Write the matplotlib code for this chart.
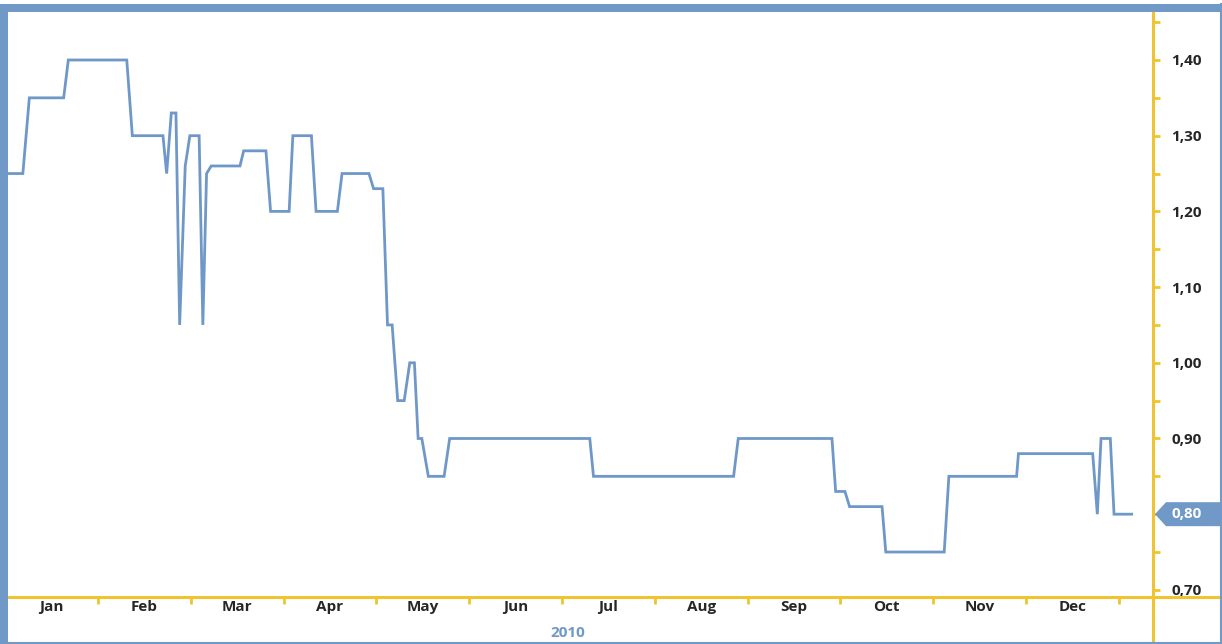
import matplotlib
matplotlib.use("Agg")
import matplotlib.pyplot as plt
from matplotlib.lines import Line2D
from matplotlib.patches import Rectangle, Polygon
from matplotlib import transforms
from matplotlib.ticker import FixedLocator, FuncFormatter, MultipleLocator

# ---- data (x in month units: 0 = start of Jan, 12 = end of Dec) ----
x_month = [0.03, 0.19, 0.26, 0.63, 0.68, 1.31, 1.37, 1.70, 1.74, 1.79, 1.84,
           1.88, 1.94, 1.99, 2.09, 2.13, 2.17, 2.22, 2.53, 2.57, 2.81, 2.86,
           3.06, 3.10, 3.30, 3.35, 3.58, 3.63, 3.92, 3.97, 4.07, 4.12, 4.17,
           4.23, 4.30, 4.36, 4.41, 4.45, 4.49, 4.56, 4.73, 4.79, 6.30, 6.34,
           7.85, 7.90, 8.91, 8.95, 9.05, 9.10, 9.45, 9.49, 10.12, 10.17,
           10.90, 10.92, 11.72, 11.77, 11.81, 11.91, 11.95, 12.14]
price = [1.25, 1.25, 1.35, 1.35, 1.40, 1.40, 1.30, 1.30, 1.25, 1.33, 1.33,
         1.05, 1.26, 1.30, 1.30, 1.05, 1.25, 1.26, 1.26, 1.28, 1.28, 1.20,
         1.20, 1.30, 1.30, 1.20, 1.20, 1.25, 1.25, 1.23, 1.23, 1.05, 1.05,
         0.95, 0.95, 1.00, 1.00, 0.90, 0.90, 0.85, 0.85, 0.90, 0.90, 0.85,
         0.85, 0.90, 0.90, 0.83, 0.83, 0.81, 0.81, 0.75, 0.75, 0.85,
         0.85, 0.88, 0.88, 0.80, 0.90, 0.90, 0.80, 0.80]
month_labels = ["Jan", "Feb", "Mar", "Apr", "May", "Jun", "Jul", "Aug",
                "Sep", "Oct", "Nov", "Dec"]
year_label = "2010"
last_value = 0.80

# ---- styles ----
W, H = 1222, 644
BLUE = "#7099c7"
LINE = "#6f98c8"
YEL = "#f0c431"
TXT = "#262626"
FONT = ["Open Sans", "DejaVu Sans"]
FS = 11

fig = plt.figure(figsize=(W / 100, H / 100), dpi=100)
fig.patch.set_facecolor("white")

ax_l, ax_r, ax_b, ax_t = 8, 1153, 597, 12
ax = fig.add_axes([ax_l / W, (H - ax_b) / H, (ax_r - ax_l) / W, (ax_b - ax_t) / H])
ax.set_facecolor("white")

ax.plot(x_month, price, color=LINE, lw=2.0, solid_joinstyle="miter", zorder=3)

ax.set_xlim(0.03, 12.37)
ax.set_ylim(0.6906, 1.4634)

for s in ["top", "left", "right"]:
    ax.spines[s].set_visible(False)
ax.spines["bottom"].set_color(YEL)
ax.spines["bottom"].set_linewidth(2.2)

# x ticks at month boundaries, labels centred in months
ax.xaxis.set_major_locator(FixedLocator(list(range(1, 13))))
ax.xaxis.set_major_formatter(FuncFormatter(lambda v, p: ""))
ax.xaxis.set_minor_locator(FixedLocator([i + 0.5 for i in range(12)]))
ax.xaxis.set_minor_formatter(FuncFormatter(lambda v, p: month_labels[int(v)] if 0 <= int(v) < 12 else ""))
ax.tick_params(axis="x", which="major", direction="out", length=5, width=2, color=YEL)
ax.tick_params(axis="x", which="minor", length=0, pad=2.5, labelsize=FS, labelcolor=TXT)
for lab in ax.get_xticklabels(minor=True):
    lab.set_fontweight("bold")
    lab.set_fontfamily(FONT)

# y ticks on right
ax.yaxis.tick_right()
ax.yaxis.set_major_locator(MultipleLocator(0.1))
ax.yaxis.set_minor_locator(MultipleLocator(0.05))


def yfmt(v, p):
    if abs(v - last_value) < 1e-6:
        return ""
    return f"{v:.2f}".replace(".", ",")


ax.yaxis.set_major_formatter(FuncFormatter(yfmt))
ax.tick_params(axis="y", which="both", direction="out", length=5, width=2, color=YEL)
ax.tick_params(axis="y", which="major", pad=8, labelsize=FS, labelcolor=TXT)
for lab in ax.get_yticklabels():
    lab.set_fontweight("bold")
    lab.set_fontfamily(FONT)

# yellow vertical axis line spanning the figure
fig.add_artist(Line2D([ax_r / W, ax_r / W], [0, 1 - 5 / H], color=YEL, lw=2.2,
                      transform=fig.transFigure, zorder=5))
# yellow horizontal axis continuing to the right edge
fig.add_artist(Line2D([ax_r / W, 1], [(H - ax_b) / H] * 2, color=YEL, lw=2.2,
                      transform=fig.transFigure, zorder=5))

# last value marker
trans = transforms.blended_transform_factory(fig.transFigure, ax.transData)
hh = 12 / 757
poly = Polygon([(1155 / W, last_value), (1166 / W, last_value + hh), (1, last_value + hh),
                (1, last_value - hh), (1166 / W, last_value - hh)],
               closed=True, transform=trans, facecolor=BLUE, edgecolor="none",
               clip_on=False, zorder=6)
fig.add_artist(poly)
fig.text(1171 / W, last_value, f"{last_value:.2f}".replace(".", ","), transform=trans,
         color="white", fontsize=FS, fontweight="bold", family=FONT,
         va="center", ha="left", zorder=7)

# year label
fig.text(568 / W, 1 - 633 / H, year_label, color=BLUE, fontsize=FS,
         fontweight="bold", family=FONT, ha="center", va="center")

# blue frame
fig.add_artist(Rectangle((0, 0), 8 / W, 1 - 4 / H, transform=fig.transFigure,
                         facecolor=BLUE, edgecolor="none", zorder=8))
fig.add_artist(Rectangle((0, 1 - 12 / H), 1, 8 / H, transform=fig.transFigure,
                         facecolor=BLUE, edgecolor="none", zorder=8))
fig.add_artist(Line2D([1 - 1.5 / W] * 2, [0, 1 - 4 / H], color=BLUE, lw=1.5,
                      transform=fig.transFigure, zorder=8))
fig.add_artist(Line2D([0, 1], [1.5 / H] * 2, color=BLUE, lw=1.5,
                      transform=fig.transFigure, zorder=8))

fig.savefig("out.png", dpi=100)
